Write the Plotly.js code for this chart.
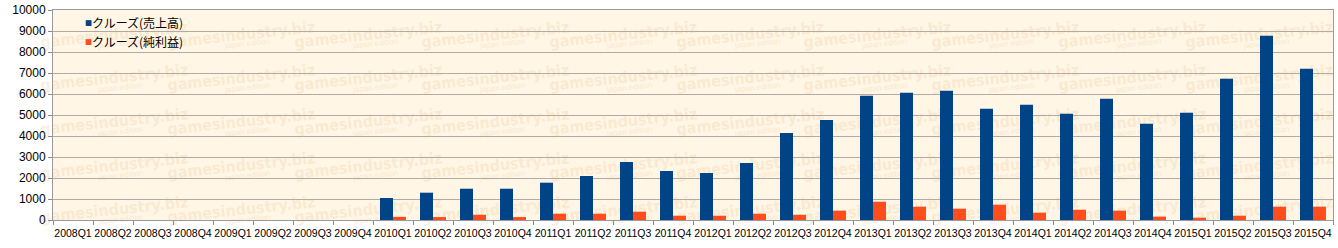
<!DOCTYPE html>
<html><head><meta charset="utf-8">
<script src="https://cdn.plot.ly/plotly-3.0.1.min.js"></script>
<style>html,body{margin:0;padding:0;background:#fff;}#chart{width:1338px;height:248px;}</style>
</head><body><div id="chart"></div>
<script>
const categories = ["2008Q1","2008Q2","2008Q3","2008Q4","2009Q1","2009Q2","2009Q3","2009Q4",
"2010Q1","2010Q2","2010Q3","2010Q4","2011Q1","2011Q2","2011Q3","2011Q4",
"2012Q1","2012Q2","2012Q3","2012Q4","2013Q1","2013Q2","2013Q3","2013Q4",
"2014Q1","2014Q2","2014Q3","2014Q4","2015Q1","2015Q2","2015Q3","2015Q4"];
const salesName = "クルーズ(売上高)";
const profitName = "クルーズ(純利益)";
const sales = [0,0,0,0,0,0,0,0,
1048,1300,1490,1490,1776,2095,2762,2333,
2238,2714,4143,4762,5920,6060,6157,5300,
5490,5062,5776,4586,5110,6729,8776,7205];
const profit = [0,0,0,0,0,0,0,0,
150,140,250,140,300,300,395,205,
205,300,250,445,870,635,540,730,
350,490,445,160,110,205,635,635];
const yTicks = [0,1000,2000,3000,4000,5000,6000,7000,8000,9000,10000];
const yTickText = yTicks.map(String);
const watermarkText = "gamesindustry.biz";
const watermarkSub = "japan edition";

const salesColor = "#004387", profitColor = "#FF4D1C";
const font = "Liberation Sans, Arial, sans-serif";
const cjk = "Noto Sans CJK JP, Liberation Sans, sans-serif";

const data = [
 {type:"bar", x:categories, y:sales, name:salesName, marker:{color:salesColor}},
 {type:"bar", x:categories, y:profit, name:profitName, marker:{color:profitColor}}
];

const W = 1338, H = 248, ML = 53, MR = 5, MT = 10, MB = 28;
const PW = W - ML - MR, PH = H - MT - MB;
const px = x => (x - ML) / PW;
const py = y => (H - MB - y) / PH;

const annotations = [];
let nWatermark = 0;
for (let r = 0; r < 5; r++) {
  for (let c = 0; c < 10; c++) {
    const cx = 114 + c * 127.3, cy = 34 + r * 43.8;
    annotations.push({xref:"paper", yref:"paper", x:px(cx), y:py(cy), xanchor:"center", yanchor:"middle",
      text:"<b>"+watermarkText+"</b>", showarrow:false, textangle:-6,
      font:{family:"Liberation Sans Narrow, DejaVu Sans Condensed, sans-serif", size:16, color:"rgba(232,196,150,0.26)"}});
    annotations.push({xref:"paper", yref:"paper", x:px(cx + 6), y:py(cy + 10), xanchor:"center", yanchor:"middle",
      text:watermarkSub, showarrow:false, textangle:-6,
      font:{family:"Liberation Sans, sans-serif", size:8, color:"rgba(232,196,150,0.32)"}});
    nWatermark += 2;
  }
}
const legendItems = [[salesName, salesColor, 22], [profitName, profitColor, 41]];
legendItems.forEach(([name, col, y]) => {
  annotations.push({xref:"paper", yref:"paper", x:px(83), y:py(y), xanchor:"left", yanchor:"middle",
    text:"■", showarrow:false, font:{family:"DejaVu Sans", size:7.5, color:col}});
  annotations.push({xref:"paper", yref:"paper", x:px(90), y:py(y), xanchor:"left", yanchor:"middle",
    text:name, showarrow:false, font:{family:cjk, size:12, color:"#000"}});
});

const layout = {
 width:W, height:H,
 margin:{l:ML, r:MR, t:MT, b:MB},
 paper_bgcolor:"#ffffff", plot_bgcolor:"#FFF6E5",
 barmode:"group", bargap:0.35, bargroupgap:0,
 font:{family:font, size:11, color:"#000"},
 showlegend:false,
 annotations:annotations,
 xaxis:{type:"category", tickson:"boundaries", ticks:"outside", ticklen:4, tickcolor:"#888",
   showline:true, linecolor:"#9a9a9a", mirror:true, showgrid:false, tickangle:0,
   ticklabelstandoff:3, tickfont:{size:10.5, family:font}, automargin:false},
 yaxis:{range:[0,10000], tickvals:yTicks, ticktext:yTickText, ticks:"outside", ticklen:4, tickcolor:"#888",
   showline:true, linecolor:"#9a9a9a", mirror:true, gridcolor:"#B3ABA3", gridwidth:1,
   zeroline:false, tickfont:{size:12, family:font}, automargin:false}
};
Plotly.newPlot("chart", data, layout, {displayModeBar:false, staticPlot:true}).then(gd => {
  const below = gd.querySelector(".layer-below");
  if (!below) return;
  gd.querySelectorAll(".infolayer g.annotation").forEach(g => {
    const idx = +g.getAttribute("data-index");
    if (idx < nWatermark) below.appendChild(g);
  });
});
</script></body></html>
